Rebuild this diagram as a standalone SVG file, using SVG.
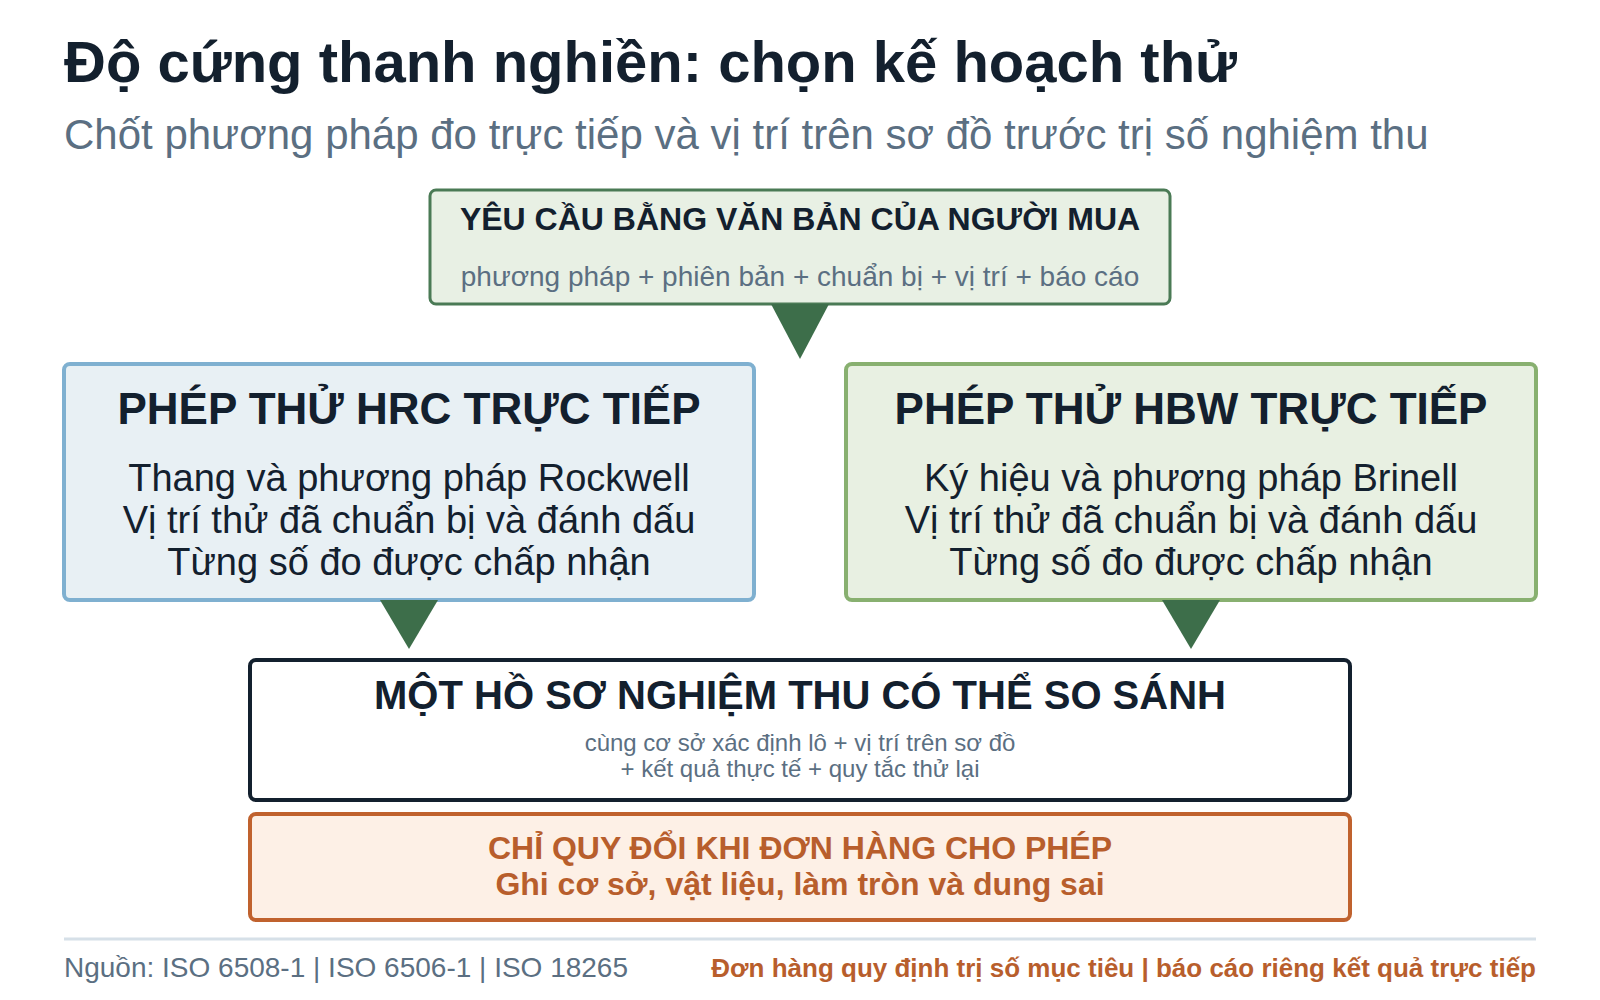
<svg xmlns="http://www.w3.org/2000/svg" width="1600" height="1000" viewBox="0 0 1600 1000">
<style>
text{font-family:"Liberation Sans",Arial,sans-serif}
.h1{font-size:58px;font-weight:bold;fill:#13202e}
.sub{font-size:42px;fill:#5b6f82}
.ttl{font-weight:bold;fill:#13202e;text-anchor:middle}
.body{font-size:38px;fill:#13202e;text-anchor:middle}
.note{fill:#5b6f82;text-anchor:middle}
.warn{font-size:32px;font-weight:bold;fill:#b85e2c;text-anchor:middle}
.arrow{fill:#3d6e4a}
</style>
<rect width="1600" height="1000" fill="#ffffff"/>
<text class="h1" x="64" y="82">Độ cứng thanh nghiền: chọn kế hoạch thử</text>
<text class="sub" x="64" y="149">Chốt phương pháp đo trực tiếp và vị trí trên sơ đồ trước trị số nghiệm thu</text>

<g id="buyer">
<rect x="430" y="190" width="740" height="114" rx="6" fill="#e8f0e4" stroke="#4a7a55" stroke-width="3"/>
<text class="ttl" x="800" y="230" font-size="32">YÊU CẦU BẰNG VĂN BẢN CỦA NGƯỜI MUA</text>
<text class="note" x="800" y="286" font-size="28">phương pháp + phiên bản + chuẩn bị + vị trí + báo cáo</text>
</g>

<g id="hrc">
<rect x="64" y="364" width="690" height="236" rx="6" fill="#e8f0f4" stroke="#7fb0d0" stroke-width="4"/>
<text class="ttl" x="409" y="424" font-size="44">PHÉP THỬ HRC TRỰC TIẾP</text>
<text class="body" x="409" y="491">Thang và phương pháp Rockwell</text>
<text class="body" x="409" y="533">Vị trí thử đã chuẩn bị và đánh dấu</text>
<text class="body" x="409" y="575">Từng số đo được chấp nhận</text>
</g>

<g id="hbw">
<rect x="846" y="364" width="690" height="236" rx="6" fill="#e8f0e2" stroke="#88b070" stroke-width="4"/>
<text class="ttl" x="1191" y="424" font-size="44">PHÉP THỬ HBW TRỰC TIẾP</text>
<text class="body" x="1191" y="491">Ký hiệu và phương pháp Brinell</text>
<text class="body" x="1191" y="533">Vị trí thử đã chuẩn bị và đánh dấu</text>
<text class="body" x="1191" y="575">Từng số đo được chấp nhận</text>
</g>

<g id="record">
<rect x="250" y="660" width="1100" height="140" rx="6" fill="#ffffff" stroke="#13202e" stroke-width="4"/>
<text class="ttl" x="800" y="709" font-size="40">MỘT HỒ SƠ NGHIỆM THU CÓ THỂ SO SÁNH</text>
<text class="note" x="800" y="751" font-size="24">cùng cơ sở xác định lô + vị trí trên sơ đồ</text>
<text class="note" x="800" y="777" font-size="24">+ kết quả thực tế + quy tắc thử lại</text>
</g>

<g id="conversion">
<rect x="250" y="814" width="1100" height="106" rx="6" fill="#fdf0e6" stroke="#c0622e" stroke-width="4"/>
<text class="warn" x="800" y="859">CHỈ QUY ĐỔI KHI ĐƠN HÀNG CHO PHÉP</text>
<text class="warn" x="800" y="895">Ghi cơ sở, vật liệu, làm tròn và dung sai</text>
</g>

<g id="connectors">
<polygon class="arrow" points="771,304 829,304 800,359"/>
<polygon class="arrow" points="380,600 438,600 409,649"/>
<polygon class="arrow" points="1162,600 1220,600 1191,649"/>
</g>

<g id="footer">
<line x1="64" y1="939" x2="1536" y2="939" stroke="#d6e0e8" stroke-width="3"/>
<text x="64" y="977" font-size="28" fill="#5b6f82">Nguồn: ISO 6508-1 | ISO 6506-1 | ISO 18265</text>
<text x="1536" y="977" font-size="26" font-weight="bold" fill="#b85e2c" text-anchor="end">Đơn hàng quy định trị số mục tiêu | báo cáo riêng kết quả trực tiếp</text>
</g>
</svg>
